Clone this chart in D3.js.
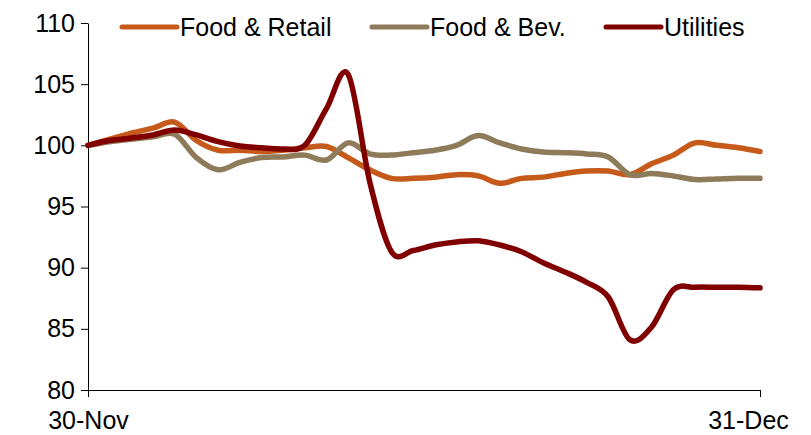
<!DOCTYPE html>
<html>
<head>
<meta charset="utf-8">
<script src="https://cdn.jsdelivr.net/npm/d3@7"></script>
<style>
  html, body { margin: 0; padding: 0; background: #fff; }
  svg { display: block; font-family: "Liberation Sans", Arial, sans-serif; }
</style>
</head>
<body>
<svg id="chart" width="811" height="435"></svg>
<script>
// ---- data ----
const days = d3.range(32); // 30-Nov .. 31-Dec (calendar days)
const xTickLabels = ["30-Nov", "31-Dec"];
const yTicks = [80, 85, 90, 95, 100, 105, 110];
const seriesNames = ["Food & Retail", "Food & Bev.", "Utilities"];
const foodRetail = [100, 100.5, 101.0, 101.4, 101.9, 100.4, 99.6, 99.6, 99.5, 99.6, 99.8, 99.9,
  99.0, 98.0, 97.3, 97.3, 97.4, 97.6, 97.5, 96.9, 97.3, 97.4, 97.7, 97.9, 97.9, 97.6, 98.5, 99.2,
  100.2, 100.0, 99.8, 99.5];
const foodBev = [100, 100.3, 100.5, 100.7, 100.9, 99.0, 98.0, 98.6, 99.0, 99.05, 99.2, 98.8,
  100.2, 99.3, 99.2, 99.4, 99.6, 100.0, 100.8, 100.2, 99.7, 99.45, 99.4, 99.3, 99.05, 97.6, 97.7,
  97.5, 97.2, 97.25, 97.3, 97.3];
const utilities = [100, 100.4, 100.6, 100.85, 101.25, 100.85, 100.3, 99.95, 99.8, 99.7, 100.0,
  103.0, 105.8, 97.0, 91.3, 91.4, 91.85, 92.1, 92.2, 91.85, 91.3, 90.4, 89.65, 88.8, 87.6, 84.1,
  85.15, 88.2, 88.4, 88.4, 88.4, 88.35];
const seriesValues = [foodRetail, foodBev, utilities];
const colors = ["#C55A1B", "#8E7B59", "#800000"];

// ---- layout ----
const svg = d3.select("#chart");
const x = d3.scaleLinear().domain([0, 31]).range([88, 760]);
const y = d3.scaleLinear().domain([80, 110]).range([390, 23]);
const fontSize = 25;

// y axis
const yAxis = svg.append("g").attr("transform", "translate(88,0)")
  .call(d3.axisLeft(y).tickValues(yTicks).tickSize(7).tickSizeOuter(0).tickPadding(6));
yAxis.select(".domain").attr("stroke", "#000").attr("stroke-width", 1);
yAxis.selectAll(".tick line").attr("stroke", "#000");
yAxis.selectAll(".tick text").attr("font-size", fontSize).attr("fill", "#000")
  .attr("font-family", "Liberation Sans, Arial, sans-serif");

// x axis
const xAxis = svg.append("g").attr("transform", "translate(0,390)")
  .call(d3.axisBottom(x).tickValues([0, 31]).tickFormat((d, i) => xTickLabels[i])
    .tickSize(7).tickSizeOuter(0).tickPadding(14));
xAxis.select(".domain").attr("stroke", "#000").attr("stroke-width", 1);
xAxis.selectAll(".tick line").attr("stroke", "#000");
xAxis.selectAll(".tick text").attr("font-size", fontSize).attr("fill", "#000")
  .attr("font-family", "Liberation Sans, Arial, sans-serif");
// last label is pulled inside the frame, as in the reference
xAxis.selectAll(".tick text").filter((d, i) => i === 1).attr("dx", -12);

// lines
const line = d3.line()
  .x((d, i) => x(days[i]))
  .y(d => y(d))
  .curve(d3.curveCardinal.tension(0));

seriesValues.forEach((vals, k) => {
  svg.append("path")
    .datum(vals)
    .attr("d", line)
    .attr("fill", "none")
    .attr("stroke", colors[k])
    .attr("stroke-width", 5.5)
    .attr("stroke-linejoin", "round")
    .attr("stroke-linecap", "round");
});

// legend
const legendX = [122, 372, 606];
const legend = svg.append("g");
seriesNames.forEach((name, k) => {
  legend.append("line")
    .attr("x1", legendX[k]).attr("x2", legendX[k] + 55)
    .attr("y1", 27).attr("y2", 27)
    .attr("stroke", colors[k]).attr("stroke-width", 5).attr("stroke-linecap", "round");
  legend.append("text")
    .attr("x", legendX[k] + 58).attr("y", 36)
    .attr("font-size", fontSize).attr("fill", "#000")
    .text(name);
});
</script>
</body>
</html>
